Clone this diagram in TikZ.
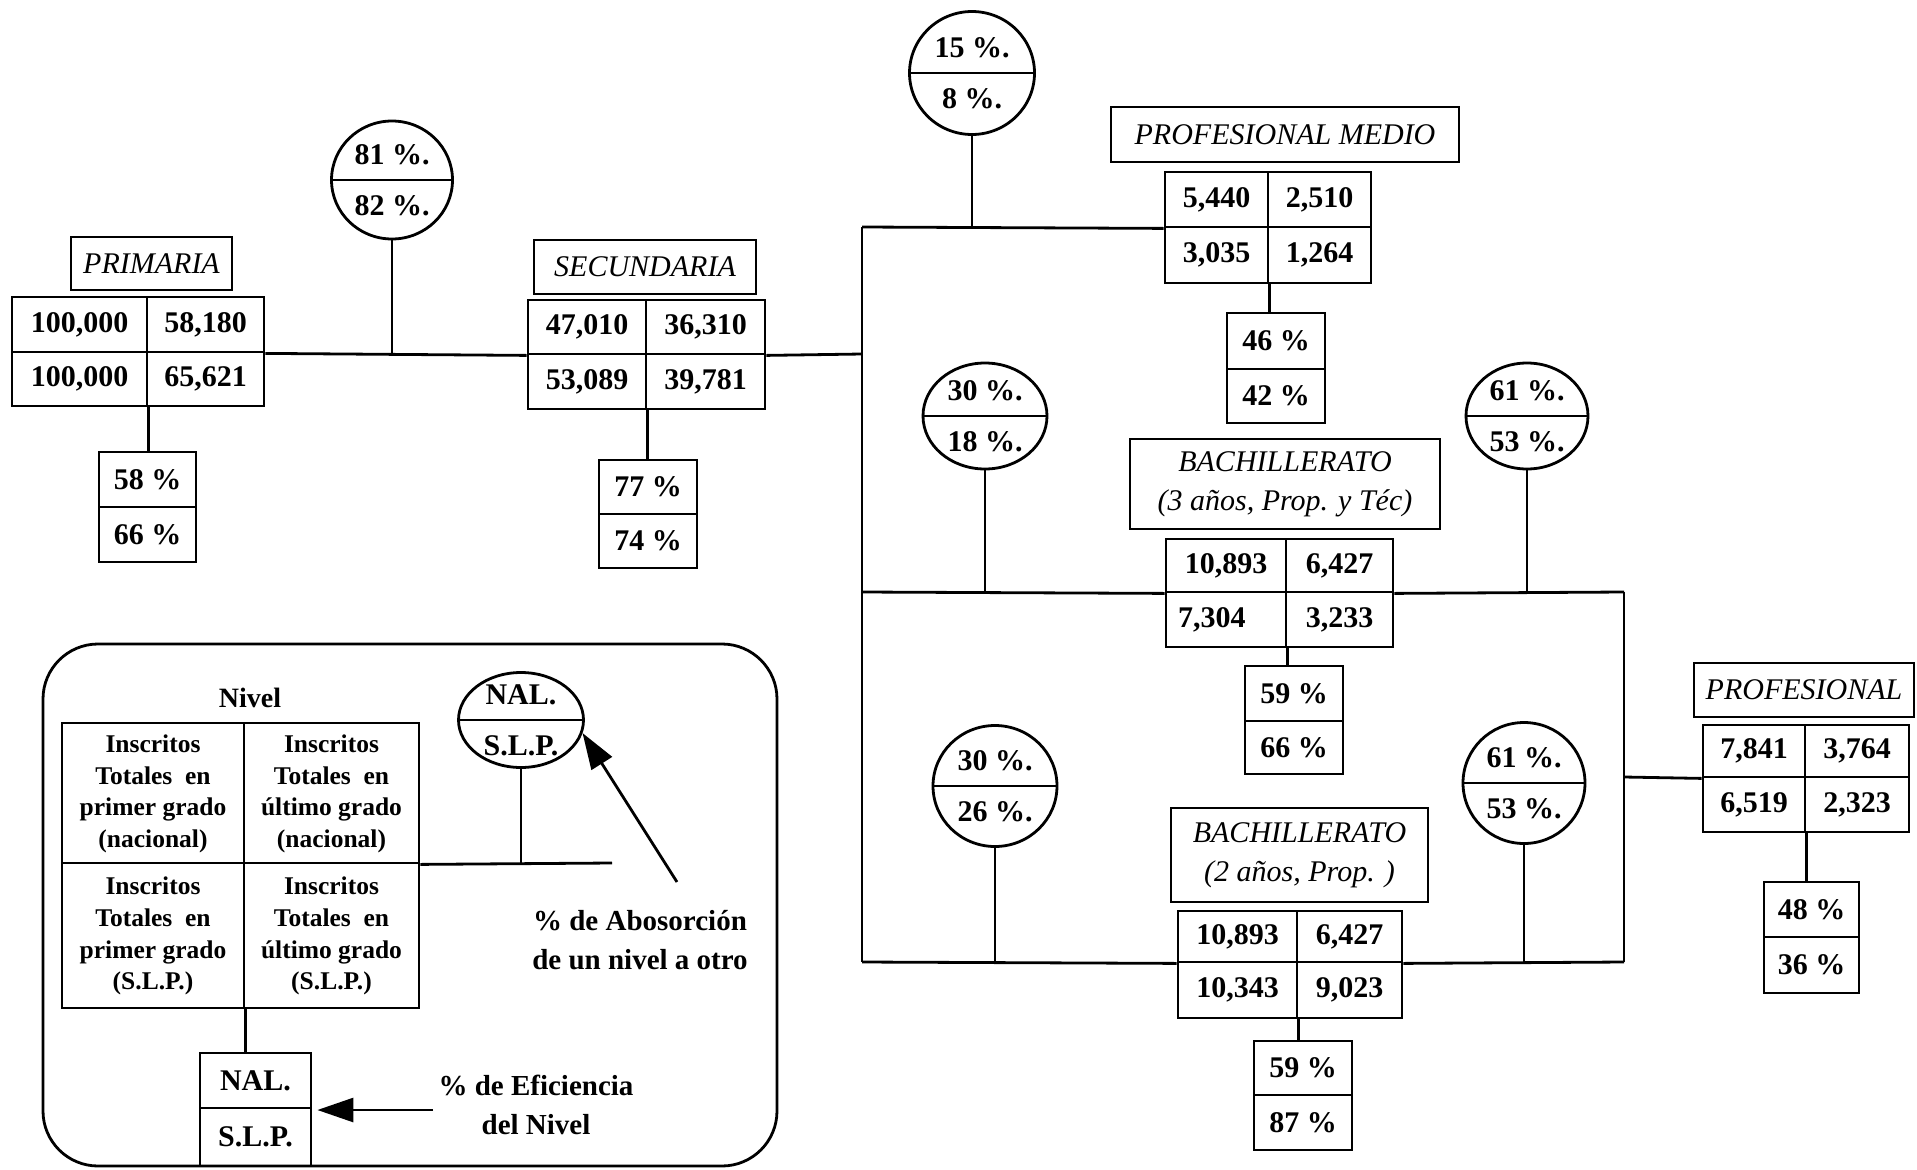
\documentclass[tikz,border=0pt]{standalone}
\usepackage{fontspec}
\setmainfont{Liberation Serif}
\usetikzlibrary{shapes.geometric,arrows.meta,calc}
\newcommand{\cellat}[7][]{\node[cell,#1,minimum width={#5-#3},minimum height={#6-#4}] (#2) at ({(#3+#5)/2},{(#4+#6)/2}) {#7};}
\newcommand{\circat}[7]{%
  \node[circ,minimum width=#4,minimum height=#5] (#1) at (#2,#3) {};
  \draw[ln] (#1.west) -- (#1.east);
  \node[ctext] (#1t) at (#2,#3-25) {#6};
  \node[ctext] (#1b) at (#2,#3+26) {#7};}
\tikzset{
  ln/.style={line width=2.8pt},
  cell/.style={draw,line width=2.8pt,inner sep=0pt,font=\fontsize{30}{36}\selectfont\bfseries},
  lab/.style={line width=2.3pt,font=\fontsize{30}{39}\selectfont\itshape,align=center},
  circ/.style={draw,ellipse,line width=2.8pt,inner sep=0pt},
  ctext/.style={font=\fontsize{30}{36}\selectfont\bfseries,inner sep=0pt},
  leg/.style={font=\fontsize{25.5}{31.7}\selectfont\bfseries,align=center,text depth=4pt},
  note/.style={font=\fontsize{29}{39}\selectfont\bfseries,align=center,inner sep=0pt},
  bigarrow/.style={line width=2.8pt,-{Triangle[length=36pt,width=24pt]}},
}
\begin{document}
\begin{tikzpicture}[x=1pt,y=-1pt]
\useasboundingbox (0,0) rectangle (1917,1170);
% ---------- PRIMARIA
\cellat[lab]{primL}{71}{237}{232}{290}{PRIMARIA}
\cellat{p11}{12}{297}{147}{352}{100,000}
\cellat{p12}{147}{297}{264}{352}{58,180}
\cellat{p21}{12}{352}{147}{406}{100,000}
\cellat{p22}{147}{352}{264}{406}{65,621}
\cellat{pPa}{99}{452}{196}{507}{58 \%}
\cellat{pPb}{99}{507}{196}{562}{66 \%}
\circat{c81}{392}{180}{121}{118}{81 \%.}{82 \%.}
% ---------- SECUNDARIA
\cellat[lab]{secL}{534}{240}{756}{294}{SECUNDARIA}
\cellat{s11}{528}{300}{646}{354}{47,010}
\cellat{s12}{646}{300}{765}{354}{36,310}
\cellat{s21}{528}{354}{646}{409}{53,089}
\cellat{s22}{646}{354}{765}{409}{39,781}
\cellat{pSa}{599}{460}{697}{514}{77 \%}
\cellat{pSb}{599}{514}{697}{568}{74 \%}
% ---------- PROFESIONAL MEDIO
\cellat[lab]{pmL}{1111}{107}{1459}{162}{PROFESIONAL MEDIO}
\cellat{m11}{1165}{172}{1268}{227}{5,440}
\cellat{m12}{1268}{172}{1371}{227}{2,510}
\cellat{m21}{1165}{227}{1268}{283}{3,035}
\cellat{m22}{1268}{227}{1371}{283}{1,264}
\cellat{pMa}{1227}{313}{1325}{369}{46 \%}
\cellat{pMb}{1227}{369}{1325}{423}{42 \%}
\circat{c15}{972}{73}{125}{123}{15 \%.}{8 \%.}
% ---------- BACHILLERATO 3
\cellat[lab]{b3L}{1130}{439}{1440}{529}{BACHILLERATO\\(3 años, Prop. y Téc)}
\cellat{b11}{1166}{539}{1286}{592}{10,893}
\cellat{b12}{1286}{539}{1393}{592}{6,427}
\cellat[text width=96pt,align=left]{b21}{1166}{592}{1286}{647}{7,304}
\cellat{b22}{1286}{592}{1393}{647}{3,233}
\cellat{pBa}{1245}{666}{1343}{721}{59 \%}
\cellat{pBb}{1245}{721}{1343}{774}{66 \%}
\circat{c30a}{985}{416}{124}{106}{30 \%.}{18 \%.}
\circat{c61a}{1527}{416}{122}{106}{61 \%.}{53 \%.}
% ---------- BACHILLERATO 2
\cellat[lab]{b2L}{1171}{808}{1428}{902}{BACHILLERATO\\(2 años, Prop. )}
\cellat{d11}{1178}{911}{1297}{962}{10,893}
\cellat{d12}{1297}{911}{1402}{962}{6,427}
\cellat{d21}{1178}{962}{1297}{1018}{10,343}
\cellat{d22}{1297}{962}{1402}{1018}{9,023}
\cellat{pDa}{1254}{1041}{1352}{1095}{59 \%}
\cellat{pDb}{1254}{1095}{1352}{1150}{87 \%}
\circat{c30b}{995}{786}{124}{121}{30 \%.}{26 \%.}
\circat{c61b}{1524}{783}{122}{121}{61 \%.}{53 \%.}
% ---------- PROFESIONAL
\cellat[lab]{prL}{1694}{663}{1914}{717}{PROFESIONAL}
\cellat{f11}{1703}{725}{1805}{777}{7,841}
\cellat{f12}{1805}{725}{1909}{777}{3,764}
\cellat{f21}{1703}{777}{1805}{832}{6,519}
\cellat{f22}{1805}{777}{1909}{832}{2,323}
\cellat{pFa}{1764}{882}{1859}{937}{48 \%}
\cellat{pFb}{1764}{937}{1859}{993}{36 \%}
% ---------- connectors
\coordinate (tTop) at (862,227);
\coordinate (tS) at (862,354);
\coordinate (tM) at (862,592);
\coordinate (tBot) at (862,962);
\coordinate (rM) at (1624,592);
\coordinate (rP) at (1624,777);
\coordinate (rB) at (1624,962);
\draw[ln] (p12.south east) -- (s11.south west);
\draw[ln] (c81.south) -- (c81.south |- p12.south east);
\draw[ln] (s12.south east) -- (tS);
\draw[ln] (tTop) -- (tBot);
\draw[ln] (tTop) -- (m11.south west);
\draw[ln] (c15.south) -- (c15.south |- tTop);
\draw[ln] (tM) -- (b11.south west);
\draw[ln] (b12.south east) -- (rM);
\draw[ln] (c30a.south) -- (c30a.south |- tM);
\draw[ln] (c61a.south) -- (c61a.south |- rM);
\draw[ln] (rM) -- (rB);
\draw[ln] (tBot) -- (d11.south west);
\draw[ln] (d12.south east) -- (rB);
\draw[ln] (c30b.south) -- (c30b.south |- tBot);
\draw[ln] (c61b.south) -- (c61b.south |- rB);
\draw[ln] (rP) -- (f11.south west);
\draw[ln] (p21.south east) -- (p21.south east |- pPa.north);
\draw[ln] (s21.south east) -- (s21.south east |- pSa.north);
\draw[ln] (m21.south east) -- (m21.south east |- pMa.north);
\draw[ln] (b21.south east) -- (b21.south east |- pBa.north);
\draw[ln] (d21.south east) -- (d21.south east |- pDa.north);
\draw[ln] (f21.south east) -- (f21.south east |- pFa.north);
% ---------- legend
\node[draw,line width=2.8pt,rounded corners=55pt,minimum width=734,minimum height=522,inner sep=0pt] (frame) at (410,905) {};
\node[ctext,font=\fontsize{28}{34}\selectfont\bfseries] (nivel) at (250,698) {Nivel};
\cellat[leg]{l11}{62}{723}{244}{863}{Inscritos\\Totales\ \ en\\primer grado\\(nacional)}
\cellat[leg]{l12}{244}{723}{419}{863}{Inscritos\\Totales\ \ en\\último grado\\(nacional)}
\cellat[leg]{l21}{62}{863}{244}{1008}{Inscritos\\Totales\ \ en\\primer grado\\(S.L.P.)}
\cellat[leg]{l22}{244}{863}{419}{1008}{Inscritos\\Totales\ \ en\\último grado\\(S.L.P.)}
\cellat{pLa}{200}{1053}{311}{1108}{NAL.}
\cellat{pLb}{200}{1108}{311}{1166}{S.L.P.}
\circat{lc}{521}{720}{125}{95}{NAL.}{S.L.P.}
\coordinate (legEnd) at (612,863);
\draw[ln] (l12.south east) -- (legEnd);
\draw[ln] (lc.south) -- (lc.south |- legEnd);
\draw[ln] (l21.south east) -- (l21.south east |- pLa.north);
\node[note] (absT) at (640,940) {\% de Abosorción\\de un nivel a otro};
\node[note] (effT) at (536,1105) {\% de Eficiencia\\del Nivel};
\coordinate (absTail) at (677,882);
\coordinate (effTail) at (433,1110);
\draw[bigarrow] (absTail) -- (lc.-12);
\draw[bigarrow,shorten >=5pt] (effTail) -- (effTail -| pLa.east);
\end{tikzpicture}
\end{document}
